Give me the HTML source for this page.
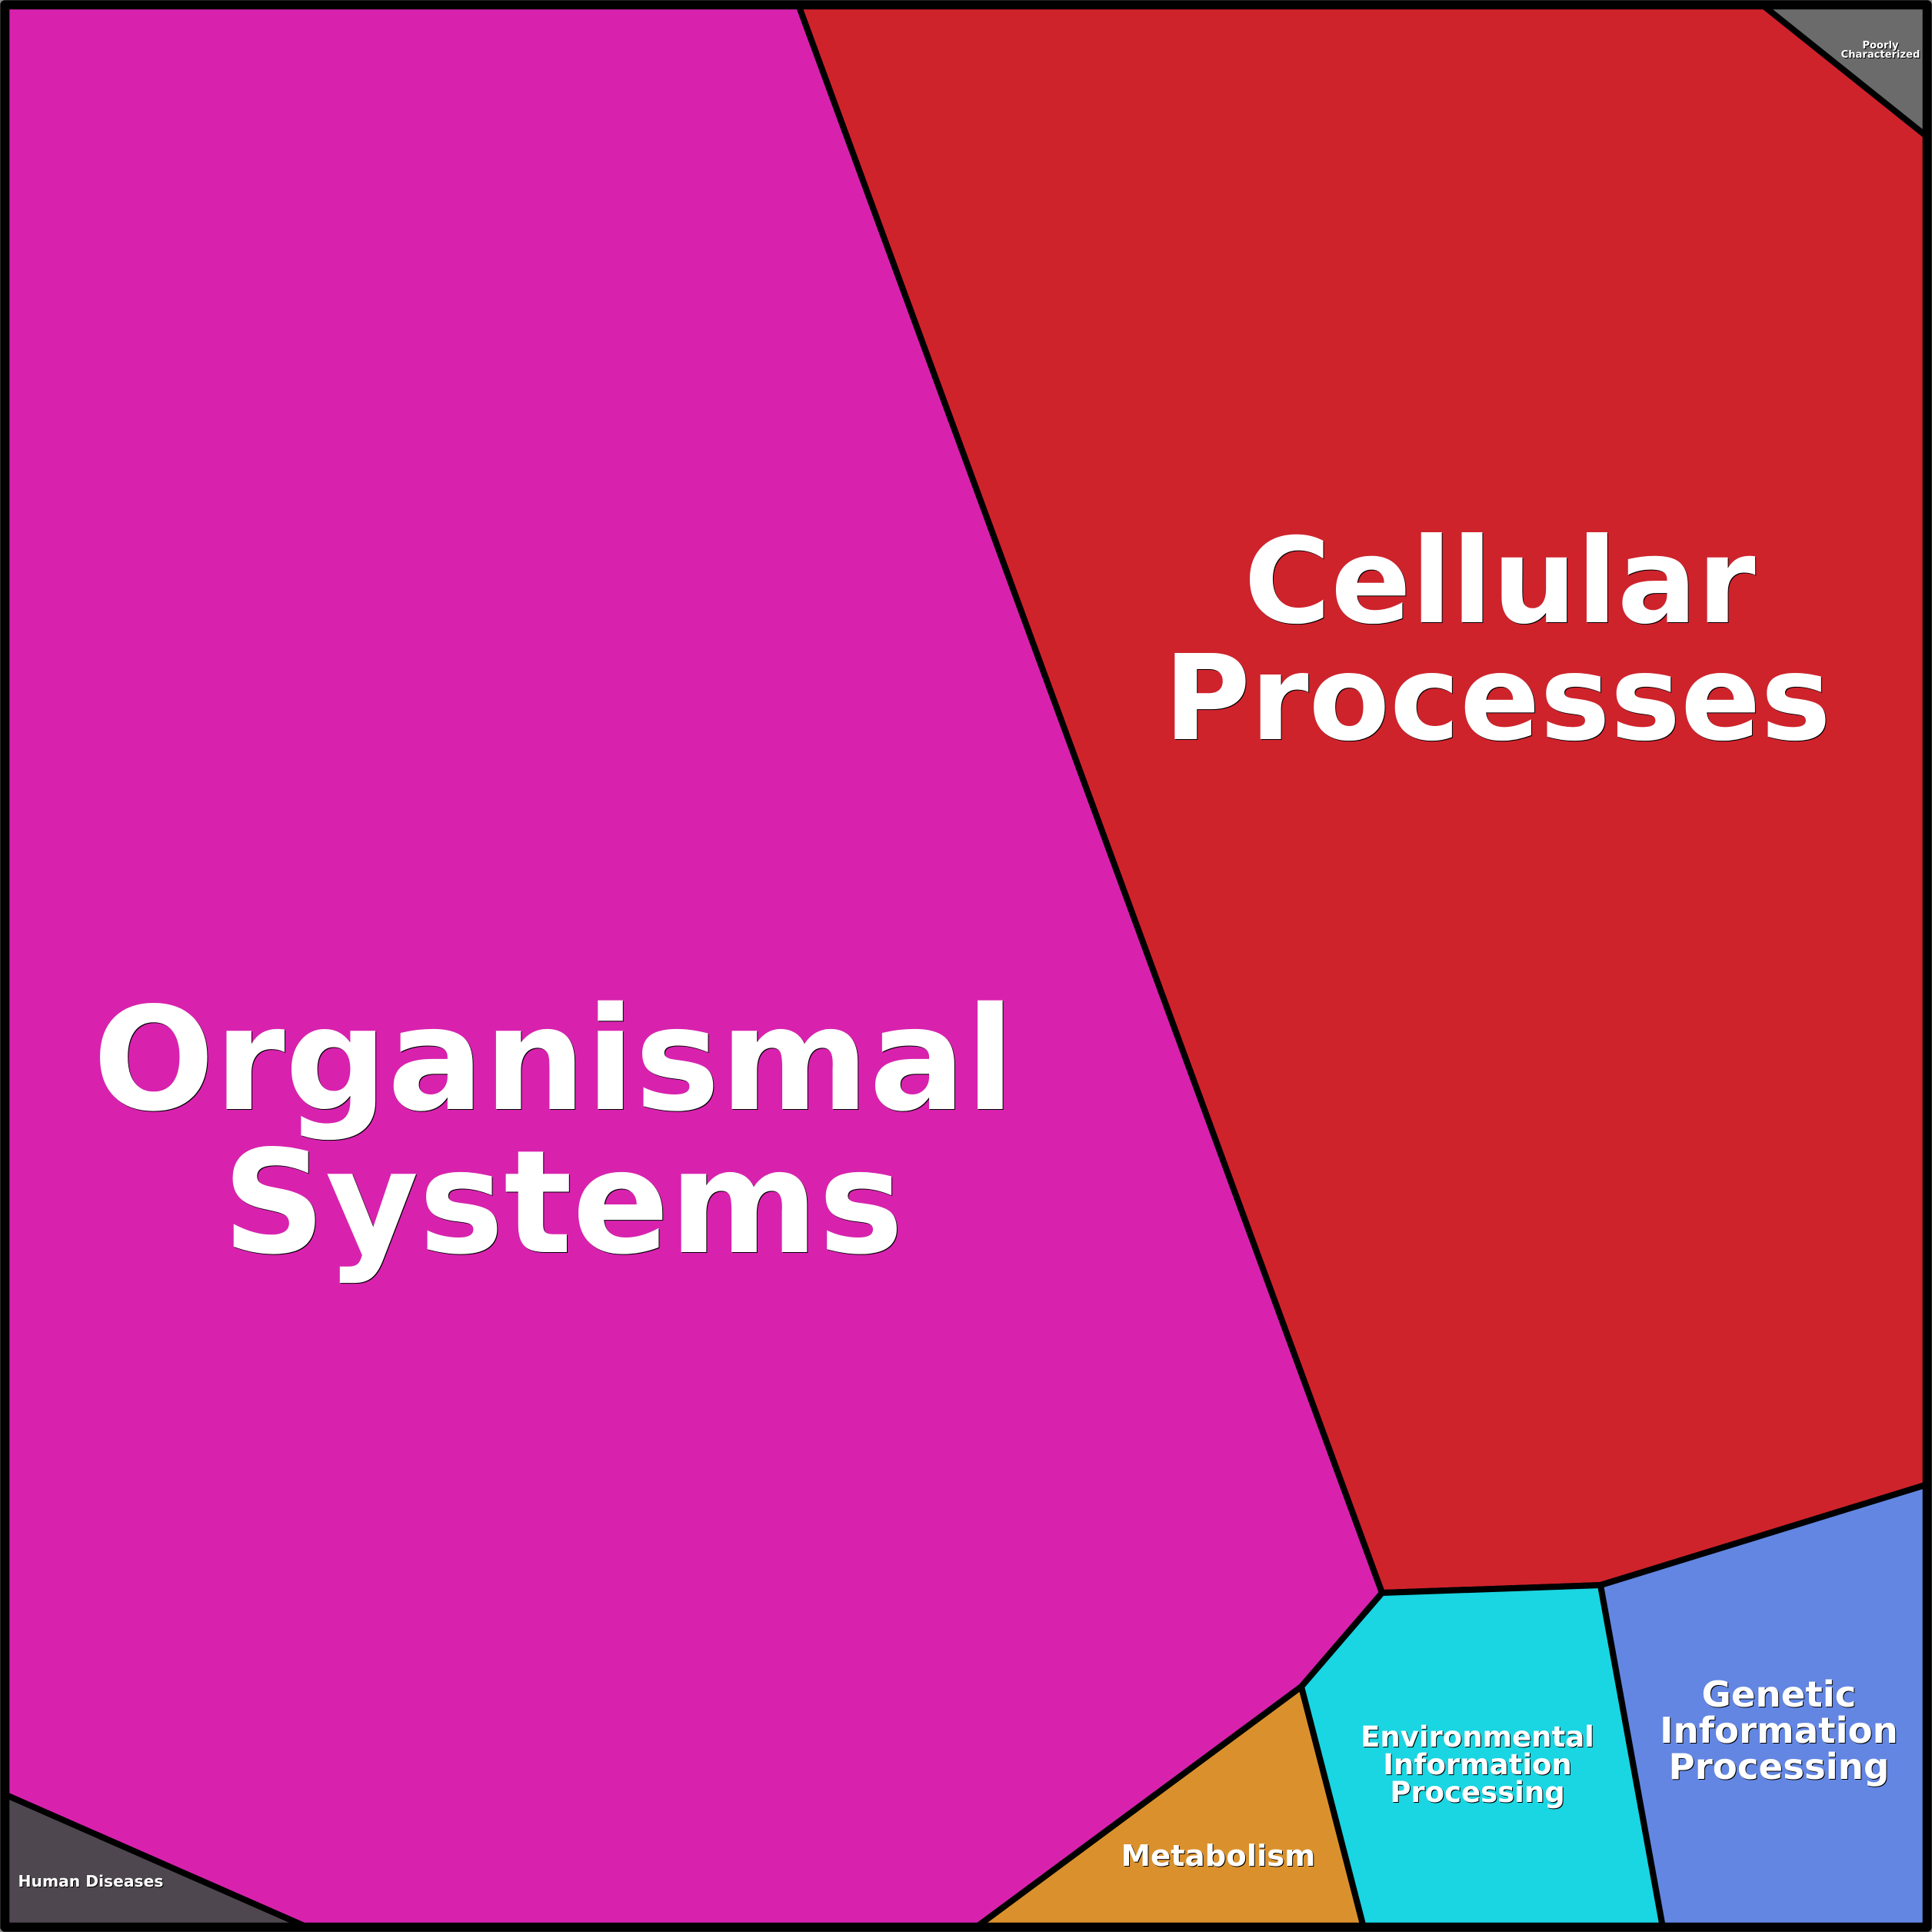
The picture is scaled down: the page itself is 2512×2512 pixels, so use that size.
<!DOCTYPE html>
<html>
<head>
<meta charset="utf-8">
<style>
html,body{margin:0;padding:0;background:#8a8a8a;width:2512px;height:2512px;overflow:hidden}
svg{display:block}
text{font-family:"DejaVu Sans",sans-serif;font-weight:700;fill:#fff;text-anchor:middle}
</style>
</head>
<body>
<svg width="2512" height="2512" viewBox="0 0 2512 2512" xmlns="http://www.w3.org/2000/svg">
<g stroke="#000" stroke-width="8" stroke-linejoin="round">
<polygon fill="#d822ae" points="6,6 1038,6 1797,2071 1692,2193 1269,2506 400,2506 6,2333"/>
<polygon fill="#cf232c" points="1038,6 2291,6 2506,178 2506,1930 2081,2061 1797,2071"/>
<polygon fill="#6b6b6b" points="2291,6 2506,6 2506,178"/>
<polygon fill="#4f474f" points="6,2333 400,2506 6,2506"/>
<polygon fill="#da912d" points="1692,2193 1773,2506 1269,2506"/>
<polygon fill="#1ad5e2" points="1797,2071 2081,2061 2162,2506 1773,2506 1692,2193"/>
<polygon fill="#6386e2" points="2081,2061 2506,1930 2506,2506 2162,2506"/>
</g>
<rect x="6.3" y="6.3" width="2499.4" height="2499.4" fill="none" stroke="#000" stroke-width="12" stroke-linejoin="round"/>
<g style="filter:drop-shadow(1px 1px 0 #000)">
<text x="720" y="1442" font-size="186">Organismal</text>
<text x="732" y="1628" font-size="186">Systems</text>
<text x="1950" y="809" font-size="154">Cellular</text>
<text x="1947" y="961" font-size="153.6">Processes</text>
</g>
<g style="filter:drop-shadow(1.5px 1.5px 0 #000)">
<text x="2313" y="2219" font-size="46.7">Genetic</text>
<text x="2313" y="2266" font-size="46.7">Information</text>
<text x="2313" y="2313" font-size="46.7">Processing</text>
<text x="1921" y="2271" font-size="37">Environmental</text>
<text x="1921" y="2307" font-size="37">Information</text>
<text x="1921" y="2343" font-size="37">Processing</text>
<text x="1584" y="2426" font-size="38.6">Metabolism</text>
<text x="118" y="2453" font-size="20.3">Human Diseases</text>
<text x="2445" y="63" font-size="13.1">Poorly</text>
<text x="2445" y="75" font-size="13.1">Characterized</text>
</g>
</svg>
</body>
</html>
